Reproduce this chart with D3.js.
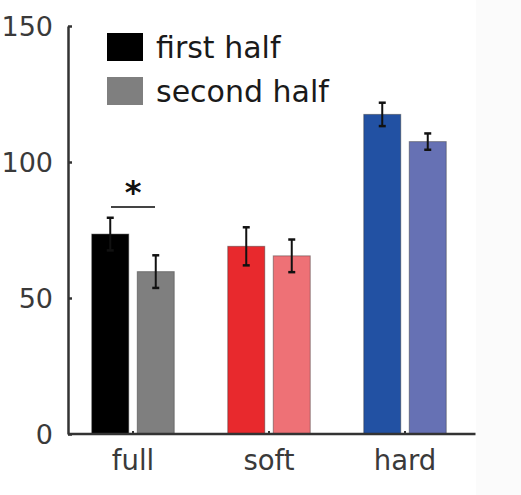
<!DOCTYPE html>
<html>
<head>
<meta charset="utf-8">
<script src="https://cdn.jsdelivr.net/npm/d3@7"></script>
<style>
  body { margin: 0; background: #fff; }
  svg { display: block; font-family: "DejaVu Sans", sans-serif; }
</style>
</head>
<body>
<div id="chart"></div>
<script>
var categories = ["full", "soft", "hard"];
var seriesNames = ["first half", "second half"];
var firstHalf = [73.5, 69, 117.5];
var secondHalf = [59.7, 65.5, 107.5];
var firstErr = [6, 7, 4.3];
var secondErr = [6, 6, 3];
var yTicks = [0, 50, 100, 150];
var barColors = [["#000000", "#7f7f7f"], ["#e8292d", "#ee7176"], ["#2251a3", "#6671b4"]];

var width = 521, height = 495;
var margin = {top: 26, left: 68, bottom: 61, right: 46};
var plotW = width - margin.left - margin.right,
    plotH = height - margin.top - margin.bottom;

var svg = d3.select("#chart").append("svg").attr("width", width).attr("height", height);

// faint off-white strip on the right, as in the picture
svg.append("rect").attr("x", 476).attr("y", 0).attr("width", 45).attr("height", height).attr("fill", "#fbfbfb");

var g = svg.append("g").attr("transform", "translate(" + margin.left + "," + margin.top + ")");

var x = d3.scaleBand().domain(categories).range([-3, plotW - 2]);
var y = d3.scaleLinear().domain([0, 150]).range([plotH, 0]);
var barW = 37, gap = 8.5;

var data = categories.map(function(c, i) {
    return [
        {cat: c, k: 0, v: firstHalf[i], e: firstErr[i], color: barColors[i][0]},
        {cat: c, k: 1, v: secondHalf[i], e: secondErr[i], color: barColors[i][1]}
    ];
});
var flat = [].concat.apply([], data);

function bx(d) {
    var c = x(d.cat) + x.bandwidth() / 2;
    return d.k === 0 ? c - gap / 2 - barW : c + gap / 2;
}

g.selectAll("rect.bar").data(flat).enter().append("rect")
    .attr("class", "bar")
    .attr("x", bx)
    .attr("y", function(d) { return y(d.v); })
    .attr("width", barW)
    .attr("height", function(d) { return y(0) - y(d.v); })
    .attr("fill", function(d) { return d.color; })
    .attr("stroke", "#333").attr("stroke-opacity", 0.45).attr("stroke-width", 1);

// error bars
var eb = g.selectAll("g.err").data(flat).enter().append("g").attr("class", "err")
    .attr("transform", function(d) { return "translate(" + (bx(d) + barW / 2) + ",0)"; });
eb.append("line")
    .attr("y1", function(d) { return y(d.v + d.e); })
    .attr("y2", function(d) { return y(d.v - d.e); })
    .attr("stroke", "#111").attr("stroke-width", 2);
eb.append("line").attr("x1", -3.5).attr("x2", 3.5)
    .attr("y1", function(d) { return y(d.v + d.e); })
    .attr("y2", function(d) { return y(d.v + d.e); })
    .attr("stroke", "#111").attr("stroke-width", 2.5);
eb.append("line").attr("x1", -3.5).attr("x2", 3.5)
    .attr("y1", function(d) { return y(d.v - d.e); })
    .attr("y2", function(d) { return y(d.v - d.e); })
    .attr("stroke", "#111").attr("stroke-width", 2.5);

// axes
var yAxis = g.append("g").call(d3.axisRight(y).tickValues(yTicks).tickSize(4).tickSizeOuter(0))
    .attr("font-family", "DejaVu Sans");
yAxis.select(".domain").attr("stroke", "#333").attr("stroke-width", 2.5);
yAxis.selectAll(".tick line").attr("stroke", "#333").attr("stroke-width", 2.5);
yAxis.selectAll(".tick text").attr("x", -15).attr("text-anchor", "end")
    .attr("fill", "#3a3a3a").style("font-size", "27px").attr("dy", "0.36em");

var xAxis = g.append("g").attr("transform", "translate(0," + plotH + ")")
    .call(d3.axisTop(x).tickSize(3).tickSizeOuter(0))
    .attr("font-family", "DejaVu Sans");
xAxis.select(".domain").attr("d", "M0,0H" + (plotW + 0.5)).attr("stroke", "#333").attr("stroke-width", 2.5);
xAxis.selectAll(".tick line").attr("stroke", "#333").attr("stroke-width", 2);
xAxis.selectAll(".tick text").attr("y", 36).attr("dy", 0)
    .attr("fill", "#3a3a3a").style("font-size", "27.5px");

// significance marker
var fc = x("full") + x.bandwidth() / 2;
g.append("line").attr("x1", fc - 22).attr("x2", fc + 22)
    .attr("y1", y(83.5)).attr("y2", y(83.5))
    .attr("stroke", "#444").attr("stroke-width", 2);
g.append("text").attr("x", fc).attr("y", y(83.5) - 4).attr("text-anchor", "middle")
    .style("font-size", "32px").style("font-weight", "bold").attr("fill", "#111").text("*");

// legend
var leg = svg.append("g").attr("transform", "translate(107,33)");
seriesNames.forEach(function(n, i) {
    leg.append("rect").attr("x", 0).attr("y", i * 44).attr("width", 36).attr("height", 28)
        .attr("fill", barColors[0][i]);
    leg.append("text").attr("x", 49).attr("y", i * 44 + 25)
        .style("font-size", "30px").attr("fill", "#1a1a1a").text(n);
});
</script>
</body>
</html>
